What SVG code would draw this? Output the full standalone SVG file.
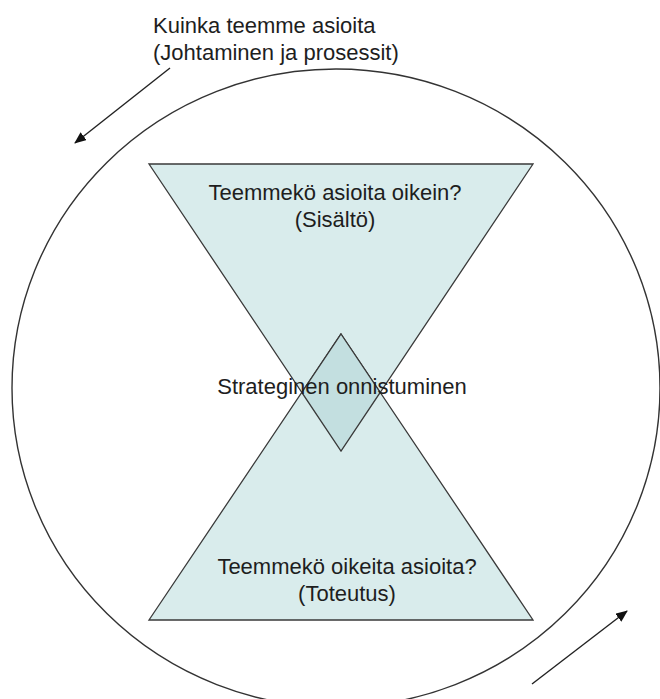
<svg xmlns="http://www.w3.org/2000/svg" width="660" height="699" viewBox="0 0 660 699">
  <defs>
    <style>
      .lbl { font-family: "Liberation Sans", Arial, sans-serif; font-size: 22px; fill: #1e1e1e; }
      .tri { fill: #d9ecec; stroke: #3a3a3a; stroke-width: 1.3; stroke-linejoin: miter; }
      .dia { fill: #c3dfe0; stroke: #3a3a3a; stroke-width: 1.3; }
      .ring { fill: none; stroke: #333; stroke-width: 1.4; }
      .arr { stroke: #222; stroke-width: 1.4; fill: none; marker-end: url(#ah); }
    </style>
    <marker id="ah" markerWidth="12" markerHeight="10" refX="11" refY="5" orient="auto" markerUnits="userSpaceOnUse">
      <path d="M0,0 L12,5 L0,10 Z" fill="#111"/>
    </marker>
  </defs>
  <rect width="660" height="699" fill="#fff"/>

  <g id="cycle">
    <ellipse class="ring" cx="336" cy="388" rx="324" ry="319"/>
  </g>

  <g id="connectors">
    <line class="arr" x1="170" y1="68" x2="75" y2="143"/>
    <line class="arr" x1="532" y1="684" x2="627" y2="611"/>
  </g>

  <g id="label-top">
    <text class="lbl" x="153" y="33">Kuinka teemme asioita</text>
    <text class="lbl" x="153" y="60">(Johtaminen ja prosessit)</text>
  </g>

  <g id="upper-triangle">
    <polygon class="tri" points="149,164 533,164 341,451"/>
    <text class="lbl" x="335" y="200" text-anchor="middle">Teemmekö asioita oikein?</text>
    <text class="lbl" x="335" y="227" text-anchor="middle">(Sisältö)</text>
  </g>

  <g id="lower-triangle">
    <polygon class="tri" points="341,334 533,620 149,620"/>
    <text class="lbl" x="347" y="574" text-anchor="middle">Teemmekö oikeita asioita?</text>
    <text class="lbl" x="347" y="601" text-anchor="middle">(Toteutus)</text>
  </g>

  <g id="overlap">
    <polygon class="dia" points="341,334 380.2,392.4 341,451 301.8,392.4"/>
    <text class="lbl" x="342" y="394" text-anchor="middle">Strateginen onnistuminen</text>
  </g>
</svg>
